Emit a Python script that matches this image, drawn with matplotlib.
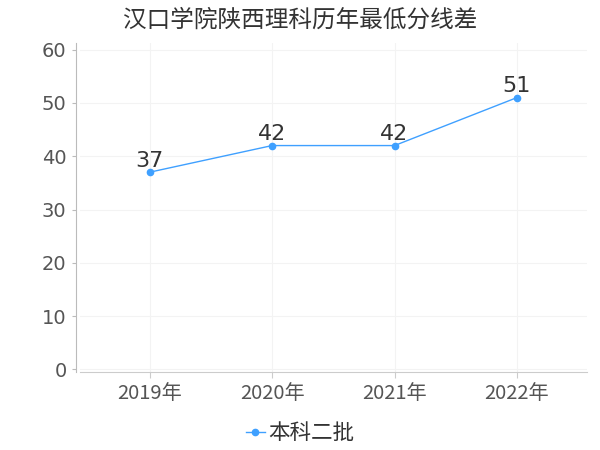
import matplotlib
matplotlib.use('Agg')
import matplotlib.pyplot as plt

plt.rcParams['font.family'] = ['DejaVu Sans', 'Noto Sans CJK SC']

years = ['2019年', '2020年', '2021年', '2022年']
scores = [37, 42, 42, 51]
series_name = '本科二批'
title = '汉口学院陕西理科历年最低分线差'

fig = plt.figure(figsize=(6, 4.5), dpi=100)
ax = fig.add_axes([0.133, 0.173, 0.845, 0.731])

x = list(range(len(years)))
ax.plot(x, scores, color='#3fa0ff', lw=1, marker='o', ms=4.5, label=series_name)
for xi, v in zip(x, scores):
    ax.annotate(str(v), (xi, v), xytext=(0, 1), textcoords='offset points',
                ha='center', va='bottom', fontsize=16, color='#333333')

ax.set_xlim(-0.57, 3.57)
ax.set_ylim(-0.5, 61.2)
ax.set_yticks(range(0, 61, 10))
ax.set_xticks(x)
ax.set_xticklabels(years, family=['Noto Sans CJK SC', 'DejaVu Sans'])
ax.tick_params(axis='y', labelsize=14, colors='#555555', length=3, color='#bbbbbb')
ax.tick_params(axis='x', labelsize=14.5, colors='#555555', length=4, color='#cccccc', pad=4)
ax.grid(True, color='#f3f3f3', lw=0.8)
ax.set_axisbelow(True)

for s in ['top', 'right']:
    ax.spines[s].set_visible(False)
ax.spines['left'].set_color('#bbbbbb')
ax.spines['left'].set_position(('outward', 3))
ax.spines['bottom'].set_color('#cccccc')

fig.suptitle(title, y=0.98, fontsize=17, color='#333333', family=['Noto Sans CJK SC', 'DejaVu Sans'])

leg = fig.legend(loc='lower center', bbox_to_anchor=(0.5, -0.03), frameon=False,
                 prop={'family': ['Noto Sans CJK SC', 'DejaVu Sans'], 'size': 15.5},
                 handlelength=0.9, handletextpad=0.15)
for t in leg.get_texts():
    t.set_color('#333333')

fig.savefig('out.png', dpi=100)
